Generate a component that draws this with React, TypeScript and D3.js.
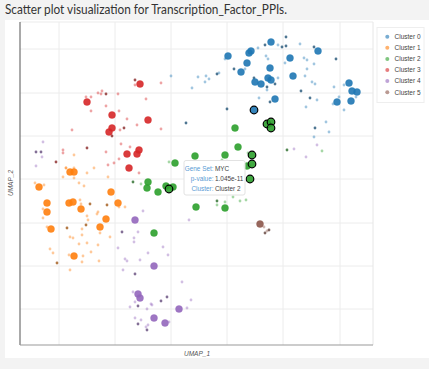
import React from "react";
import * as d3 from "d3";

// UMAP coordinates: [umap1, umap2, level]; level 0 = weak, 1 = weak (dark), 2 = significant, 3 = selected
const cluster0: [number, number, number][] = [
  [20.8, 28.9, 2], [23.1, 29.4, 2], [22.9, 29.2, 2], [22.7, 28.2, 2], [22.1, 27.3, 2], [23.5, 26.3, 2],
  [24.1, 26.1, 2], [25.0, 27.7, 2], [24.8, 26.7, 2], [25.1, 26.5, 2], [27.3, 26.9, 2], [27.0, 28.7, 2],
  [25.1, 30.3, 2], [29.8, 29.4, 2], [25.5, 24.6, 2], [32.9, 26.2, 2], [33.2, 25.4, 2], [33.7, 25.3, 2],
  [31.7, 24.3, 2], [33.1, 24.4, 2], [23.4, 23.5, 3],
  [15.1, 26.9, 0], [17.2, 25.7, 0], [17.8, 26.8, 0], [18.6, 26.9, 0], [18.9, 26.6, 0], [18.5, 26.3, 0],
  [19.9, 27.2, 0], [19.7, 27.1, 1], [20.5, 28.6, 0], [21.4, 27.6, 1], [22.5, 27.6, 0], [23.4, 26.7, 1],
  [23.8, 29.7, 0], [23.9, 24.7, 0], [20.7, 23.6, 1], [16.6, 22.2, 1], [24.5, 30.0, 1], [24.6, 28.9, 0],
  [24.8, 28.6, 0], [25.8, 30.0, 0], [26.2, 29.8, 1], [26.6, 29.9, 1], [26.6, 30.8, 1], [28.0, 30.1, 0],
  [29.4, 29.8, 1], [28.4, 28.7, 0], [28.7, 28.5, 0], [31.6, 28.6, 1], [26.5, 28.2, 0], [29.4, 28.1, 0],
  [28.7, 27.6, 0], [25.8, 26.7, 0], [28.5, 26.9, 0], [25.5, 26.1, 1], [24.7, 25.8, 1], [29.2, 26.3, 0],
  [29.5, 26.1, 0], [28.1, 25.4, 1], [31.4, 25.8, 0], [32.4, 26.0, 0], [25.0, 24.3, 1], [29.0, 24.7, 1],
  [29.7, 24.5, 0], [31.9, 24.8, 0], [31.3, 24.1, 0], [28.6, 23.8, 0], [33.6, 24.8, 0], [32.4, 23.5, 0],
  [24.7, 25.5, 0], [29.5, 21.7, 1], [30.6, 22.3, 0], [30.9, 21.3, 0], [29.4, 20.8, 0],
];

const cluster1: [number, number, number][] = [
  [5.0, 17.3, 2], [5.4, 17.3, 2], [1.9, 15.8, 2], [9.1, 15.3, 2], [4.9, 14.2, 2], [5.3, 14.3, 2],
  [2.7, 14.2, 2], [6.1, 13.6, 2], [9.8, 14.2, 2], [2.7, 13.3, 2], [8.6, 12.6, 2], [8.0, 11.8, 2],
  [3.1, 11.6, 2], [5.4, 8.9, 2],
  [4.6, 17.7, 0], [5.4, 17.7, 0], [7.4, 17.7, 0], [4.3, 16.8, 0], [5.4, 16.7, 0], [6.7, 17.2, 0],
  [8.8, 16.8, 0], [1.5, 16.2, 0], [2.4, 16.0, 0], [5.9, 16.2, 0], [6.4, 15.9, 0], [6.0, 14.5, 0],
  [6.1, 14.1, 0], [7.0, 14.1, 1], [2.3, 13.6, 0], [2.3, 12.7, 0], [6.7, 12.9, 0], [6.8, 12.5, 0],
  [7.8, 13.3, 0], [7.7, 13.1, 0], [8.7, 14.0, 1], [10.5, 13.8, 0], [9.9, 13.8, 0], [6.6, 12.0, 1],
  [2.7, 11.8, 0], [4.7, 11.7, 1], [6.2, 11.6, 0], [6.2, 11.0, 0], [5.0, 10.8, 0], [5.3, 10.7, 0],
  [8.0, 11.2, 0], [9.0, 10.8, 0], [5.9, 10.1, 0], [7.8, 10.0, 0], [3.0, 9.6, 0], [3.3, 9.2, 0],
  [4.9, 9.0, 0], [7.1, 9.3, 0], [6.3, 8.9, 0], [6.2, 8.3, 0], [3.7, 8.2, 1], [7.9, 8.4, 0],
  [5.0, 7.5, 0], [6.7, 10.2, 0], [5.4, 19.0, 0], [4.6, 17.7, 0],
];

const cluster2: [number, number, number][] = [
  [24.7, 22.1, 3], [25.1, 22.3, 3], [25.1, 21.7, 3], [23.2, 19.0, 3], [23.2, 18.1, 3], [23.0, 16.6, 3],
  [14.9, 15.6, 3],
  [21.5, 21.7, 2], [21.8, 19.8, 2], [20.5, 19.0, 2], [17.5, 18.9, 2], [15.5, 18.2, 2], [22.7, 17.9, 2],
  [12.8, 16.3, 2], [12.7, 15.7, 2], [13.8, 15.3, 2], [14.6, 15.9, 2], [15.3, 15.8, 2], [17.6, 13.8, 2],
  [20.5, 13.7, 2], [13.4, 11.2, 2],
  [11.3, 16.3, 1], [12.1, 16.1, 0], [14.9, 18.3, 0], [20.2, 18.5, 0], [22.8, 19.2, 0], [19.7, 14.4, 1],
  [20.5, 14.3, 0], [22.0, 14.4, 0], [22.6, 14.5, 0], [19.7, 14.0, 0], [21.3, 14.8, 0], [26.7, 19.5, 1],
  [30.2, 19.4, 0],
];

const cluster3: [number, number, number][] = [
  [12.0, 26.1, 2], [6.7, 24.3, 2], [9.2, 23.0, 2], [12.8, 22.5, 2], [9.2, 21.7, 2], [8.9, 21.3, 2],
  [11.9, 19.5, 2], [11.7, 19.1, 2], [10.7, 19.1, 2], [10.9, 17.7, 2],
  [11.5, 26.5, 1], [11.5, 26.0, 0], [14.1, 26.2, 0], [8.2, 25.4, 0], [7.8, 25.2, 0], [8.1, 25.1, 0],
  [8.6, 25.1, 1], [9.8, 25.1, 0], [6.6, 24.8, 0], [7.1, 24.8, 0], [12.6, 24.6, 0], [8.6, 23.9, 0],
  [7.1, 23.4, 0], [9.9, 23.4, 0], [10.7, 22.6, 0], [11.7, 22.0, 0], [14.1, 21.6, 0], [10.4, 21.7, 1],
  [10.0, 21.5, 0], [5.2, 21.5, 0], [9.2, 20.9, 1], [10.1, 20.1, 0], [11.0, 19.8, 0], [8.6, 19.3, 0],
  [9.9, 18.6, 0], [9.4, 18.2, 0], [8.8, 18.0, 0], [11.9, 17.2, 0], [6.7, 19.7, 1], [4.3, 19.5, 0],
  [4.3, 19.2, 0], [3.6, 18.3, 1],
];

const cluster4: [number, number, number][] = [
  [11.5, 12.5, 2], [13.4, 7.9, 2], [11.8, 5.1, 2], [12.0, 4.7, 2], [15.9, 3.6, 2], [13.4, 2.7, 2],
  [14.5, 2.2, 2],
  [10.2, 11.3, 1], [11.8, 11.3, 0], [11.4, 10.7, 0], [11.4, 10.3, 0], [9.8, 9.7, 0], [14.3, 9.8, 0],
  [12.8, 9.2, 0], [14.8, 9.0, 0], [10.5, 8.6, 0], [10.7, 8.4, 0], [12.0, 8.5, 0], [10.3, 7.5, 0],
  [11.5, 7.1, 1], [16.2, 6.3, 0], [11.3, 5.3, 0], [14.7, 4.8, 1], [14.1, 4.4, 1], [17.1, 4.5, 0],
  [11.5, 4.3, 0], [13.1, 4.1, 0], [13.2, 4.0, 0], [11.8, 3.9, 1], [11.0, 3.8, 0], [12.7, 3.6, 0],
  [16.7, 3.7, 0], [11.5, 2.7, 0], [12.1, 2.5, 0], [14.9, 2.3, 0], [11.8, 2.1, 1], [12.8, 2.0, 0],
  [12.6, 1.8, 0], [12.7, 1.5, 1], [12.3, 13.4, 0], [16.9, 12.5, 0],
  [2.3, 20.3, 0], [1.6, 19.3, 1], [2.1, 19.3, 1], [2.2, 18.8, 0], [1.6, 17.9, 0],
  [29.7, 20.0, 0], [27.4, 19.6, 0], [28.6, 18.8, 0],
];

const cluster5: [number, number, number][] = [
  [24.0, 12.1, 2], [24.4, 11.8, 0], [24.9, 11.5, 1], [24.5, 11.2, 1], [24.7, 11.4, 0],
];

const clusterNames = ["Cluster 0", "Cluster 1", "Cluster 2", "Cluster 3", "Cluster 4", "Cluster 5"];
const clusterColors = ["#1f77b4", "#ff7f0e", "#2ca02c", "#d62728", "#9467bd", "#8c564b"];
const gridX = [3.9, 9.5, 15.1, 20.7, 26.3, 32.0];
const gridY = [3.6, 7.9, 12.2, 16.6, 20.9, 25.2, 29.6];
const tooltipLabels = ["Gene Set:", "p-value:", "Cluster:"];
const tooltipValues = ["MYC", "1.045e-11", "Cluster 2"];

export default function App() {
  const W = 429, H = 369;
  const left = 20, right = 373, top = 22, bottom = 345;
  const x = d3.scaleLinear().domain([0, 35.3]).range([left, right]);
  const y = d3.scaleLinear().domain([0, 32.3]).range([bottom, top]);
  const color = d3.scaleOrdinal<number, string>().domain([0, 1, 2, 3, 4, 5]).range(clusterColors);
  const rScale = d3.scaleOrdinal<number, number>().domain([0, 1, 2, 3]).range([1.4, 1.4, 3.5, 3.8]);

  const all = [cluster0, cluster1, cluster2, cluster3, cluster4, cluster5].flatMap((arr, c) =>
    arr.map(([u1, u2, lvl]) => ({ u1, u2, lvl, c }))
  );
  const sorted = [...all].sort((a, b) => a.lvl - b.lvl);

  const font = "Liberation Sans, Arial, sans-serif";
  const tipX = 184, tipY = 160.5;

  return (
    <svg width={W} height={H} style={{ position: "fixed", left: 0, top: 0 }}>
      <rect x={0} y={0} width={W} height={H} fill="#f3f3f3" />
      <rect x={5} y={20} width={424} height={338} fill="#ffffff" />
      <text x={5} y={13.5} fontFamily="Lato, 'Open Sans', sans-serif" fontSize={12.5} fill="#333"
        textLength={282} lengthAdjust="spacingAndGlyphs">
        Scatter plot visualization for Transcription_Factor_PPIs.
      </text>

      {gridX.map((g) => (
        <line key={"gx" + g} x1={x(g)} x2={x(g)} y1={top} y2={bottom} stroke="#ececec" strokeWidth={1} />
      ))}
      {gridY.map((g) => (
        <line key={"gy" + g} x1={left} x2={right} y1={y(g)} y2={y(g)} stroke="#ececec" strokeWidth={1} />
      ))}
      <line x1={left} x2={right} y1={top} y2={top} stroke="#ebebeb" />
      <line x1={right} x2={right} y1={top} y2={bottom} stroke="#e6e6e6" />
      <line x1={left} x2={left} y1={top} y2={bottom} stroke="#555" strokeWidth={1} />
      <line x1={left} x2={right} y1={bottom} y2={bottom} stroke="#999" strokeWidth={1.2} />

      {sorted.map((p, i) => {
        const base = color(p.c);
        const fill = p.lvl === 1 ? (d3.color(base) as d3.RGBColor).darker(1.4).formatHex() : base;
        return (
          <circle
            key={i}
            cx={x(p.u1)}
            cy={y(p.u2)}
            r={rScale(p.lvl)}
            fill={fill}
            fillOpacity={p.lvl === 0 ? 0.42 : p.lvl === 1 ? 0.75 : 0.9}
            stroke={p.lvl === 3 ? "#000" : p.lvl === 2 ? base : "none"}
            strokeOpacity={p.lvl === 3 ? 1 : 0.35}
            strokeWidth={p.lvl === 3 ? 1.2 : 1}
          />
        );
      })}

      <g>
        <rect x={tipX} y={tipY} width={61} height={34.5} rx={2} fill="#fff" fillOpacity={0.92} stroke="#e2e2e2" />
        {tooltipLabels.map((l, i) => (
          <g key={l}>
            <text x={tipX + 29.5} y={tipY + 10.5 + i * 9.8} textAnchor="end" fontFamily={font} fontSize={6.4} fill="#5a9bd4">{l}</text>
            <text x={tipX + 31} y={tipY + 10.5 + i * 9.8} fontFamily={font} fontSize={6.4} fill="#444">{tooltipValues[i]}</text>
          </g>
        ))}
      </g>

      <g>
        <rect x={377} y={27.5} width={47} height={75} fill="#fff" stroke="#eeeeee" />
        {clusterNames.map((n, i) => (
          <g key={n}>
            <circle cx={387.3} cy={36.7 + i * 11.1} r={2} fill={color(i)} fillOpacity={0.6} />
            <text x={394.5} y={36.7 + i * 11.1 + 2.3} fontFamily={font} fontSize={6.5} fill="#444">{n}</text>
          </g>
        ))}
      </g>

      <text x={197} y={356} textAnchor="middle" fontFamily={font} fontSize={6.5} fontStyle="italic" fill="#555">UMAP_1</text>
      <text transform="translate(13,183) rotate(-90)" textAnchor="middle" fontFamily={font} fontSize={6.5} fontStyle="italic" fill="#555">UMAP_2</text>
    </svg>
  );
}
